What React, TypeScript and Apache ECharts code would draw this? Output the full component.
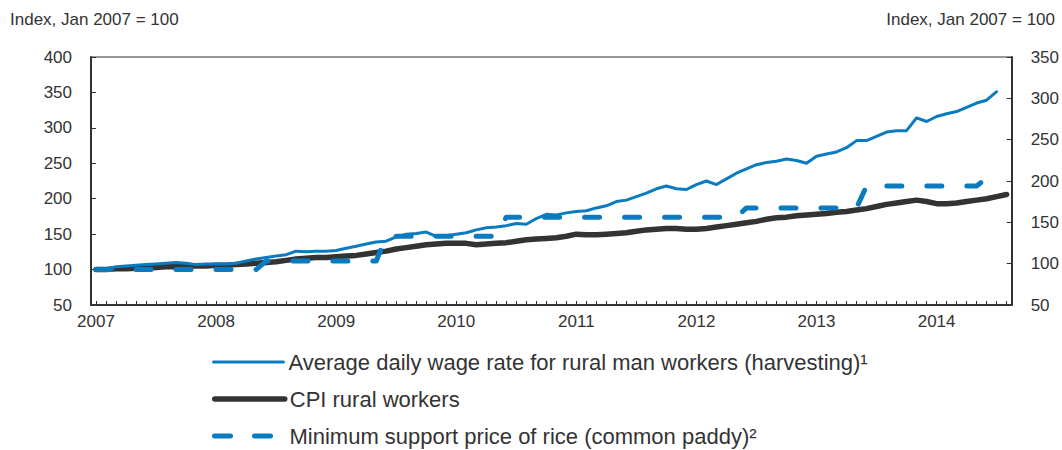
import React, { useEffect, useRef } from "react";
import * as echarts from "echarts";

const years = ["2007", "2008", "2009", "2010", "2011", "2012", "2013", "2014"];
const monthsShort = ["Jan", "Feb", "Mar", "Apr", "May", "Jun", "Jul", "Aug", "Sep", "Oct", "Nov", "Dec"];
const monthCount = 92; // Jan 2007 .. Aug 2014

const wage = [
  100, 101, 104, 105, 106, 107, 108, 109, 110, 109, 107, 108,
  108, 108, 109, 112, 115, 117, 119, 121, 126, 125, 126, 126,
  127, 130, 133, 136, 139, 140, 146, 150, 151, 153, 147, 148,
  150, 152, 156, 159, 160, 162, 165, 164, 172, 178, 177, 180,
  182, 183, 187, 190, 196, 198, 203, 208, 214, 218, 214, 213,
  220, 225, 220, 228, 236, 242, 248, 251, 253, 256, 254, 250,
  260, 263, 266, 272, 282, 282, 288, 294, 296, 296, 314, 309,
  316, 320, 323, 329, 335, 339, 351,
];

const cpi = [
  100, 100, 101, 101, 102, 102, 103, 104, 104, 105, 105, 105,
  106, 106, 107, 108, 109, 110, 111, 113, 115, 116, 117, 117,
  118, 119, 120, 122, 124, 126, 129, 131, 133, 135, 136, 137,
  137, 137, 135, 136, 137, 138, 140, 142, 143, 144, 145, 147,
  150, 149, 149, 150, 151, 152, 154, 156, 157, 158, 158, 157,
  157, 158, 160, 162, 164, 166, 168, 171, 173, 174, 176, 177,
  178, 179, 181, 182, 184, 186, 189, 192, 194, 196, 198, 196,
  193, 193, 194, 196, 198, 200, 203, 206,
];

const msp = [
  100, 100, 100, 100, 100, 100, 100, 100, 100, 100, 100, 100,
  100, 100, 100, 100, 100, 112, 112, 112, 112, 112, 112, 112,
  112, 112, 112, 112, 112, 147, 147, 147, 147, 147, 147, 147,
  147, 147, 147, 147, 147, 174, 174, 174, 174, 174, 174, 174,
  174, 174, 174, 174, 174, 174, 174, 174, 174, 174, 174, 174,
  174, 174, 174, 174, 174, 187, 187, 187, 187, 187, 187, 187,
  187, 187, 187, 187, 187, 218, 218, 218, 218, 218, 218, 218,
  218, 218, 218, 218, 218, 229,
];

const leftTicks = { min: 50, max: 400, interval: 50 };
const rightTicks = { min: 50, max: 350, interval: 50 };

const seriesNames = [
  "Average daily wage rate for rural man workers (harvesting)\u00b9",
  "CPI rural workers",
  "Minimum support price of rice (common paddy)\u00b2",
];
const axisTitle = "Index, Jan 2007 = 100";

const categories: string[] = [];
for (let i = 0; i < monthCount; i++) {
  categories.push(`${monthsShort[i % 12]} ${years[Math.floor(i / 12)]}`);
}

const BLUE = "#0B7BC1";
const DARK = "#333333";
const TEXT = "#333333";
const FONT = "'Liberation Sans', Arial, sans-serif";

export default function App() {
  const ref = useRef<HTMLDivElement>(null);
  useEffect(() => {
    if (!ref.current) return;
    const chart = echarts.init(ref.current, null, { renderer: "svg" });
    const axisLabelStyle = { color: TEXT, fontSize: 17, fontFamily: FONT };
    const legendBase = {
      orient: "horizontal",
      left: 212,
      itemWidth: 70,
      itemHeight: 14,
      itemGap: 10,
      selectedMode: false,
      padding: 0,
      textStyle: { color: TEXT, fontSize: 22, fontFamily: FONT, lineHeight: 26 },
    };
    const legendLines = [
      { width: 3, color: BLUE, cap: "round" },
      { width: 5.5, color: DARK, cap: "round" },
      { width: 5, color: BLUE, type: [16, 24], cap: "round" },
    ];
    const legendTops = [349, 386, 423];
    chart.setOption({
      animation: false,
      backgroundColor: "#ffffff",
      textStyle: { fontFamily: FONT },
      grid: {
        left: 91,
        right: 49,
        top: 57,
        bottom: 145,
        show: true,
        borderColor: DARK,
        borderWidth: 1,
        backgroundColor: "transparent",
      },
      graphic: [
        {
          type: "text",
          left: 10,
          top: 11,
          style: { text: axisTitle, fill: TEXT, font: `17px ${FONT}` },
        },
        {
          type: "text",
          right: 7,
          top: 11,
          style: { text: axisTitle, fill: TEXT, font: `17px ${FONT}` },
        },
      ],
      legend: seriesNames.map((n, k) => ({
        ...legendBase,
        top: legendTops[k],
        data: [{ name: n, lineStyle: legendLines[k], itemStyle: { opacity: 0 } }],
      })),
      xAxis: {
        type: "category",
        data: categories,
        boundaryGap: true,
        axisLine: { lineStyle: { color: DARK, width: 2 } },
        axisTick: {
          show: true,
          inside: true,
          length: 4,
          interval: 0,
          alignWithLabel: true,
          lineStyle: { color: DARK, width: 1 },
        },
        axisLabel: {
          ...axisLabelStyle,
          margin: 8,
          interval: (idx: number) => idx % 12 === 0,
          formatter: (v: string) => v.split(" ")[1],
        },
        splitLine: { show: false },
      },
      yAxis: [
        {
          type: "value",
          position: "left",
          ...leftTicks,
          axisLine: { show: true, lineStyle: { color: DARK, width: 2 } },
          axisTick: { show: true, inside: true, length: 5, lineStyle: { color: DARK, width: 1 } },
          axisLabel: { ...axisLabelStyle, margin: 19 },
          splitLine: { show: false },
        },
        {
          type: "value",
          position: "right",
          ...rightTicks,
          axisLine: { show: true, lineStyle: { color: DARK, width: 2 } },
          axisTick: { show: true, inside: true, length: 5, lineStyle: { color: DARK, width: 1 } },
          axisLabel: { ...axisLabelStyle, margin: 19 },
          splitLine: { show: false },
        },
      ],
      series: [
        {
          name: seriesNames[1],
          type: "line",
          data: cpi,
          yAxisIndex: 0,
          symbol: "none",
          lineStyle: { color: DARK, width: 5.5, cap: "round", join: "round" },
          itemStyle: { color: DARK },
          z: 2,
        },
        {
          name: seriesNames[2],
          type: "line",
          data: msp,
          yAxisIndex: 0,
          symbol: "none",
          lineStyle: { color: BLUE, width: 5, type: [15, 25], cap: "round", join: "round" },
          itemStyle: { color: BLUE },
          z: 3,
        },
        {
          name: seriesNames[0],
          type: "line",
          data: wage,
          yAxisIndex: 0,
          symbol: "none",
          lineStyle: { color: BLUE, width: 3, cap: "round", join: "round" },
          itemStyle: { color: BLUE },
          z: 4,
        },
      ],
    });
    return () => chart.dispose();
  }, []);
  return (
    <div
      ref={ref}
      style={{ position: "fixed", left: 0, top: 0, width: 1062, height: 450, background: "#fff" }}
    />
  );
}
